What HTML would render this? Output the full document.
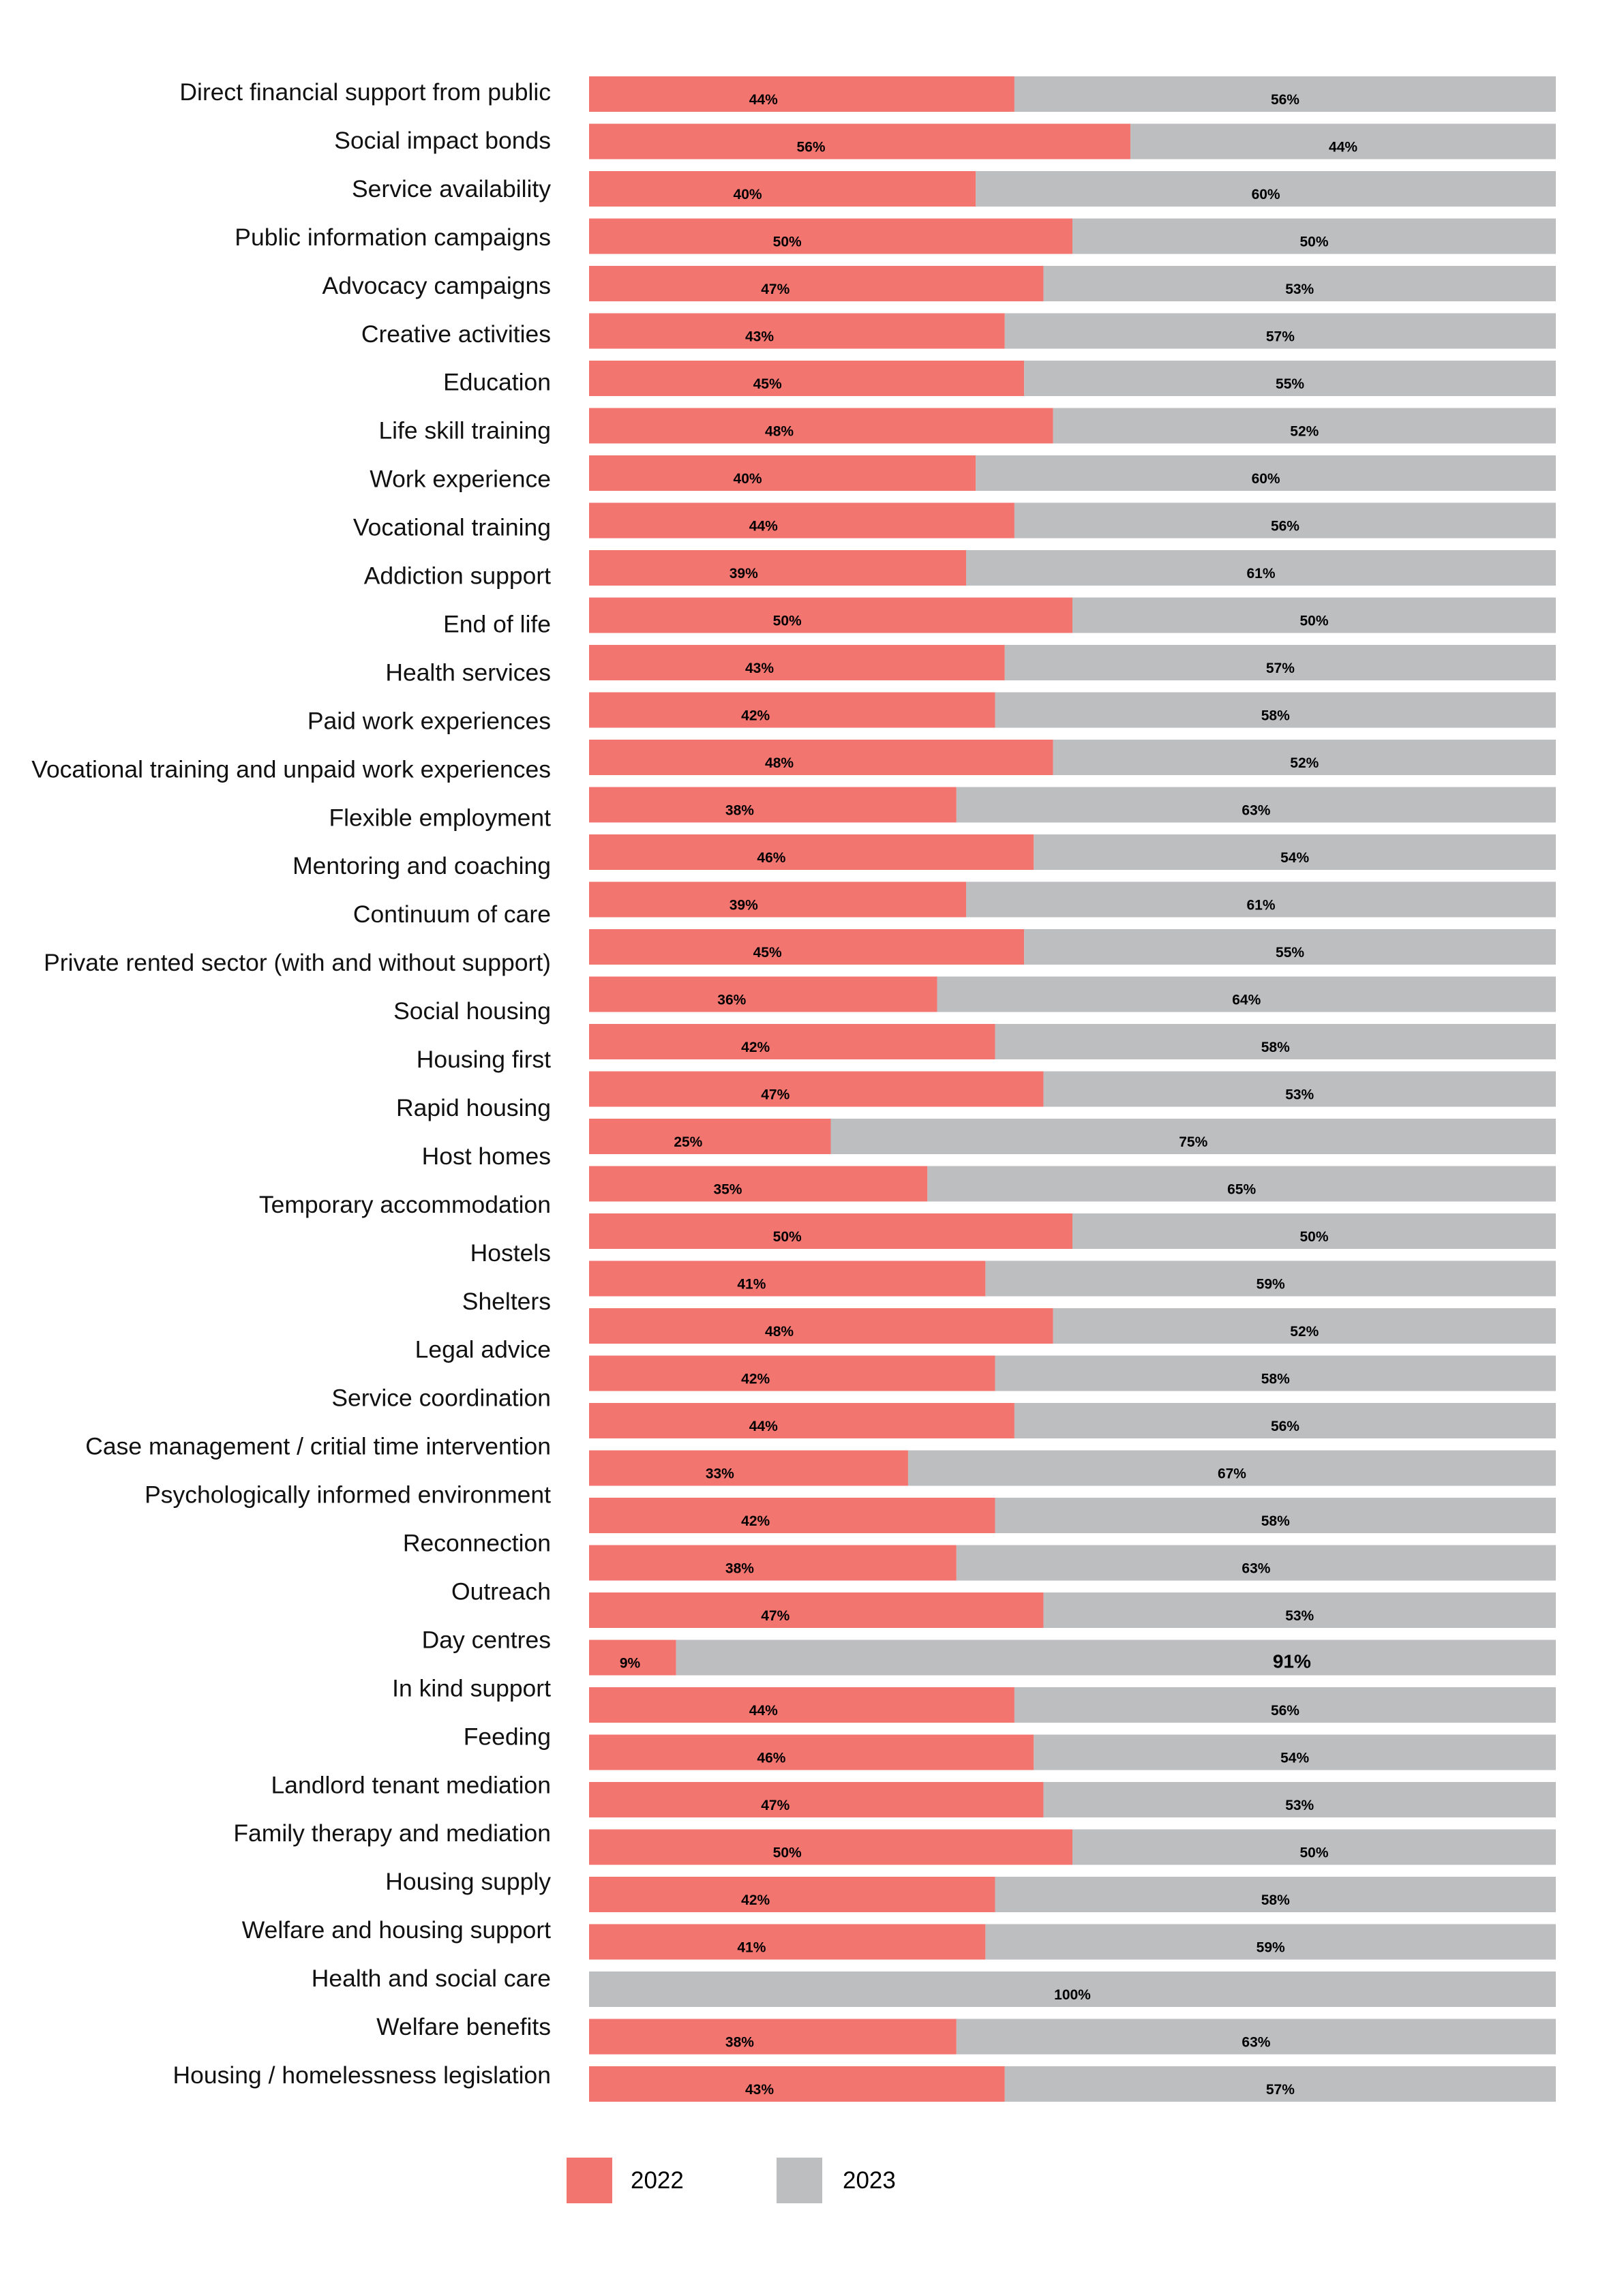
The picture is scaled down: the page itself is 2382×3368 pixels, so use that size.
<!DOCTYPE html>
<html><head><meta charset="utf-8"><style>
html,body{margin:0;padding:0;background:#fff}
svg{display:block}
</style></head><body>
<svg id="chart" width="2382" height="3368" xmlns="http://www.w3.org/2000/svg" font-family="Liberation Sans, sans-serif">
<g id="labels"></g>
<g id="bars"></g>
<g>
<rect x="831" y="3165" width="67" height="67" fill="#f37570"/>
<text x="925" y="3210" font-size="35">2022</text>
<rect x="1139" y="3165" width="67" height="67" fill="#bdbec0"/>
<text x="1236" y="3210" font-size="35">2023</text>
</g>
</svg>
<script>
const categories = ["Direct financial support from public","Social impact bonds","Service availability","Public information campaigns","Advocacy campaigns","Creative activities","Education","Life skill training","Work experience","Vocational training","Addiction support","End of life","Health services","Paid work experiences","Vocational training and unpaid work experiences","Flexible employment","Mentoring and coaching","Continuum of care","Private rented sector (with and without support)","Social housing","Housing first","Rapid housing","Host homes","Temporary accommodation","Hostels","Shelters","Legal advice","Service coordination","Case management / critial time intervention","Psychologically informed environment","Reconnection","Outreach","Day centres","In kind support","Feeding","Landlord tenant mediation","Family therapy and mediation","Housing supply","Welfare and housing support","Health and social care","Welfare benefits","Housing / homelessness legislation"];
const values2022 = [44,56,40,50,47,43,45,48,40,44,39,50,43,42,48,38,46,39,45,36,42,47,25,35,50,41,48,42,44,33,42,38,47,9,44,46,47,50,42,41,0,38,43];
const values2023 = [56,44,60,50,53,57,55,52,60,56,61,50,57,58,52,63,54,61,55,64,58,53,75,65,50,59,52,58,56,67,58,63,53,91,56,54,53,50,58,59,100,63,57];

const NS="http://www.w3.org/2000/svg";
const X0=864, X1=2282, BAR_TOP=112, PITCH=69.5, BAR_H=52;
function xScale(v){return X0+(X1-X0)*v/100;}
function yBar(i){return BAR_TOP+i*PITCH;}
const LBL0=135, LBL1=3044;
function yLabel(i){return LBL0+(LBL1-LBL0)*i/(categories.length-1);}

const lg=document.getElementById('labels');
categories.forEach((c,i)=>{
  const t=document.createElementNS(NS,'text');
  
  
  t.setAttribute('x',808);t.setAttribute('y',yLabel(i)+12);
  t.setAttribute('text-anchor','end');t.setAttribute('font-size','35.5');
  t.setAttribute('fill','#111');
  t.textContent=c;lg.appendChild(t);
});
const bg=document.getElementById('bars');
values2022.forEach((v,i)=>{
  const v2=values2023[i], tot=100;
  const y=yBar(i);
  const xr=xScale(v);
  if(v>0){
    const r=document.createElementNS(NS,'rect');
    
    
    r.setAttribute('x',X0);r.setAttribute('y',y);r.setAttribute('width',xr-X0);r.setAttribute('height',BAR_H);r.setAttribute('fill','#f37570');
    bg.appendChild(r);
    const t=document.createElementNS(NS,'text');
    
    
    t.setAttribute('x',X0+Math.max((xr-X0)*0.41,60));t.setAttribute('y',y+41);
    t.setAttribute('text-anchor','middle');t.setAttribute('font-size','21');t.setAttribute('font-weight','bold');
    t.textContent=v+'%';bg.appendChild(t);
  }
  const g=document.createElementNS(NS,'rect');
  
  
  g.setAttribute('x',xr);g.setAttribute('y',y);g.setAttribute('width',Math.max(X1-xr,0));g.setAttribute('height',BAR_H);g.setAttribute('fill','#bdbec0');
  bg.appendChild(g);
  const t2=document.createElementNS(NS,'text');
  
  
  const big=v2>=90&&v2<100;
  t2.setAttribute('x',big?xr+(X1-xr)*0.7:(xr+X1)/2);t2.setAttribute('y',y+41);
  t2.setAttribute('text-anchor','middle');t2.setAttribute('font-size',big?'28':'21');t2.setAttribute('font-weight','bold');
  t2.textContent=v2+'%';bg.appendChild(t2);
});
</script>
</body></html>
